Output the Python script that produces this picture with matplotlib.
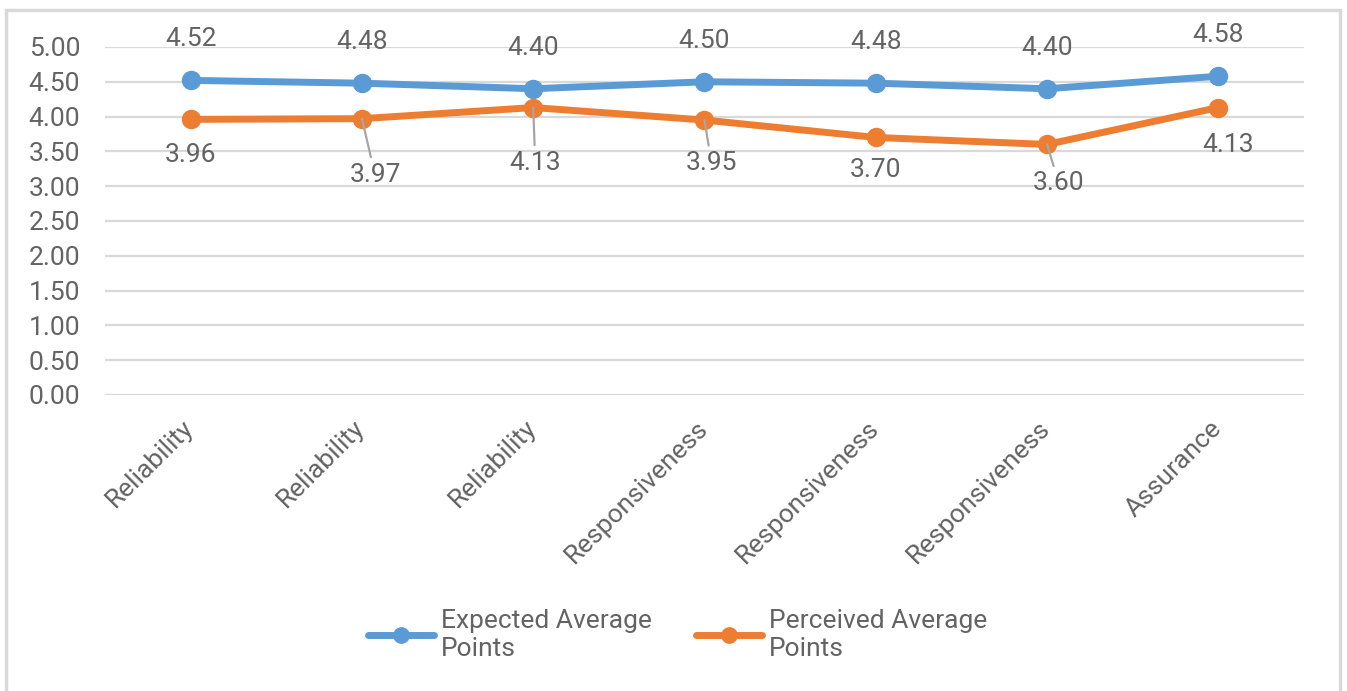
import matplotlib
matplotlib.use("Agg")
import matplotlib.pyplot as plt
from matplotlib.patches import Rectangle
from matplotlib.transforms import ScaledTranslation

plt.rcParams['font.family'] = ['Roboto', 'DejaVu Sans']

# service quality dimensions and average scores
categories = ['Reliability', 'Reliability', 'Reliability', 'Responsiveness',
              'Responsiveness', 'Responsiveness', 'Assurance']
expected = [4.52, 4.48, 4.40, 4.50, 4.48, 4.40, 4.58]
perceived = [3.96, 3.97, 4.13, 3.95, 3.70, 3.60, 4.13]
yticks = [0, 0.5, 1, 1.5, 2, 2.5, 3, 3.5, 4, 4.5, 5]

# label placement for the perceived series (pixels from the point)
perc_offsets = [(0, -36), (13, -56), (2, -55), (7, -43), (0, -33), (12, -39), (10, -37)]
perc_leader = [False, True, True, True, False, True, False]

blue = '#5B9BD5'
orange = '#ED7D31'
grey = '#636363'
fs = 19

fig = plt.figure(figsize=(13.47, 6.91), dpi=100)
ax = fig.add_axes([0.078, 0.4284, 0.89, 0.5036])

x = list(range(len(categories)))
ax.plot(x, expected, color=blue, lw=5, marker='o', ms=13,
        solid_capstyle='round', label='Expected Average\nPoints', zorder=3)
ax.plot(x, perceived, color=orange, lw=5, marker='o', ms=13,
        solid_capstyle='round', label='Perceived Average\nPoints', zorder=3)

for i, v in enumerate(expected):
    ax.annotate(f'{v:.2f}', (i, v), xytext=(0, 41), textcoords='offset pixels',
                ha='center', va='center', fontsize=fs, color=grey)

for i, v in enumerate(perceived):
    dx, dy = perc_offsets[i]
    arrow = None
    if perc_leader[i]:
        arrow = dict(arrowstyle='-', color='#a6a6a6', lw=1.6, shrinkA=2, shrinkB=0)
    ax.annotate(f'{v:.2f}', (i, v), xytext=(dx, dy), textcoords='offset pixels',
                ha='center', va='center', fontsize=fs, color=grey,
                arrowprops=arrow, zorder=4)

ax.set_xlim(-0.5, len(categories) - 0.5)
ax.set_ylim(0, 5)
ax.set_yticks(yticks)
ax.set_yticklabels([f'{t:.2f}' for t in yticks])
ax.set_xticks(x)
ax.set_xticklabels(categories, rotation=45, ha='right', rotation_mode='anchor')
ax.tick_params(axis='both', length=0, labelsize=fs, labelcolor=grey)
ax.tick_params(axis='y', pad=18)
ax.tick_params(axis='x', pad=15)
# nudge the slanted category names a little to the left
shift = ScaledTranslation(-9 / 100, 0, fig.dpi_scale_trans)
for lbl in ax.get_xticklabels():
    lbl.set_transform(lbl.get_transform() + shift)
ax.grid(axis='y', color='#d9d9d9', lw=1.6)
ax.set_axisbelow(True)
for s in ax.spines.values():
    s.set_visible(False)

fig.legend(loc='center', bbox_to_anchor=(0.503, 0.081), ncol=2, frameon=False,
           fontsize=fs, labelcolor=grey, handlelength=2.5, handletextpad=0.25,
           columnspacing=1.7, markerscale=0.85)

# outer chart border
fig.patches.append(Rectangle((6 / 1347, -0.05), 1334 / 1347, 0.05 + 681 / 691,
                             transform=fig.transFigure, fill=False,
                             edgecolor='#d9d9d9', lw=2.5))

fig.savefig('out.png', dpi=100)
